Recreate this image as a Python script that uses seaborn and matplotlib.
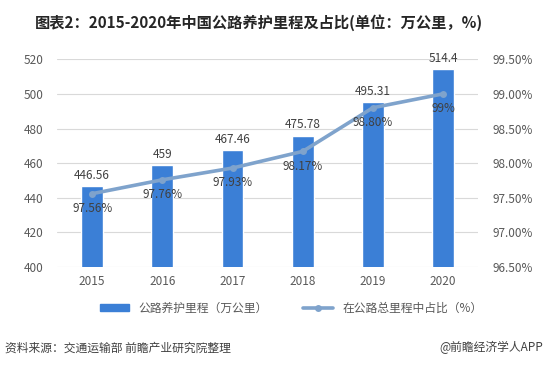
import pandas as pd
import matplotlib
matplotlib.use('Agg')
import matplotlib.pyplot as plt
import seaborn as sns
from matplotlib.patches import Patch
from matplotlib.lines import Line2D

# 数据
years = ['2015', '2016', '2017', '2018', '2019', '2020']
mileage = [446.56, 459, 467.46, 475.78, 495.31, 514.4]
ratio = [97.56, 97.76, 97.93, 98.17, 98.80, 99.0]
ratio_labels = ['97.56%', '97.76%', '97.93%', '98.17%', '98.80%', '99%']

sns.set_theme(style='white')
plt.rcParams['font.family'] = ['Noto Sans CJK SC', 'DejaVu Sans']
plt.rcParams['axes.unicode_minus'] = False

bar_color = '#3b7fd6'
line_color = '#7fa3cc'
text_color = '#595959'

df = pd.DataFrame({'year': years, 'mileage': mileage, 'ratio': ratio})

fig = plt.figure(figsize=(5.49, 3.70), dpi=100)
ax = fig.add_axes([0.104, 0.278, 0.767, 0.562])

sns.barplot(data=df, x='year', y='mileage', color=bar_color, width=0.31,
            saturation=1, ax=ax)
ax.set_ylim(400, 520)
ax.set_yticks(range(400, 521, 20))
ax.yaxis.grid(True, color='#d9d9d9', linewidth=0.8)
ax.set_axisbelow(True)
ax.set_xlabel('')
ax.set_ylabel('')
for s in ax.spines.values():
    s.set_visible(False)
ax.tick_params(axis='both', colors=text_color, labelsize=8.5, length=0)
ax.tick_params(axis='y', pad=10)
ax.tick_params(axis='x', pad=6)

for i, v in enumerate(mileage):
    ax.text(i, v + 2.5, f'{v:g}', ha='center', va='bottom', fontsize=8.5,
            color='#404040')

ax2 = ax.twinx()
sns.lineplot(x=list(range(len(years))), y=ratio, ax=ax2, color=line_color,
             linewidth=2.6, marker='o', markersize=5, markeredgewidth=0)
ax2.set_ylim(96.5, 99.5)
ax2.set_yticks([96.5, 97.0, 97.5, 98.0, 98.5, 99.0, 99.5])
ax2.set_yticklabels([f'{t:.2f}%' for t in ax2.get_yticks()])
ax2.tick_params(axis='y', colors=text_color, labelsize=8.5, length=0, pad=10)
for s in ax2.spines.values():
    s.set_visible(False)
ax.set_xlim(-0.5, 5.5)

for i, (v, lab) in enumerate(zip(ratio, ratio_labels)):
    ax2.text(i, v - 0.12, lab, ha='center', va='top', fontsize=8.5,
             color='#404040')

fig.text(0.064, 0.94, '图表2：2015-2020年中国公路养护里程及占比(单位：万公里，%)',
         fontsize=11, fontweight='bold', color='#262626', ha='left', va='center')

handles = [Patch(color=bar_color),
           Line2D([], [], color=line_color, linewidth=2.6, marker='o',
                  markersize=5, markeredgewidth=0)]
fig.legend(handles, ['公路养护里程（万公里）', '在公路总里程中占比（%）'],
           loc='center', bbox_to_anchor=(0.53, 0.167), ncol=2, frameon=False,
           fontsize=8.5, handlelength=2.5, columnspacing=3,
           labelcolor=text_color, handleheight=0.5)

fig.text(0.01, 0.06, '资料来源：交通运输部 前瞻产业研究院整理', fontsize=8.5,
         color='#404040', ha='left', va='center')
fig.text(0.99, 0.06, '@前瞻经济学人APP', fontsize=8.5,
         color='#404040', ha='right', va='center')

fig.savefig('out.png', dpi=100)
